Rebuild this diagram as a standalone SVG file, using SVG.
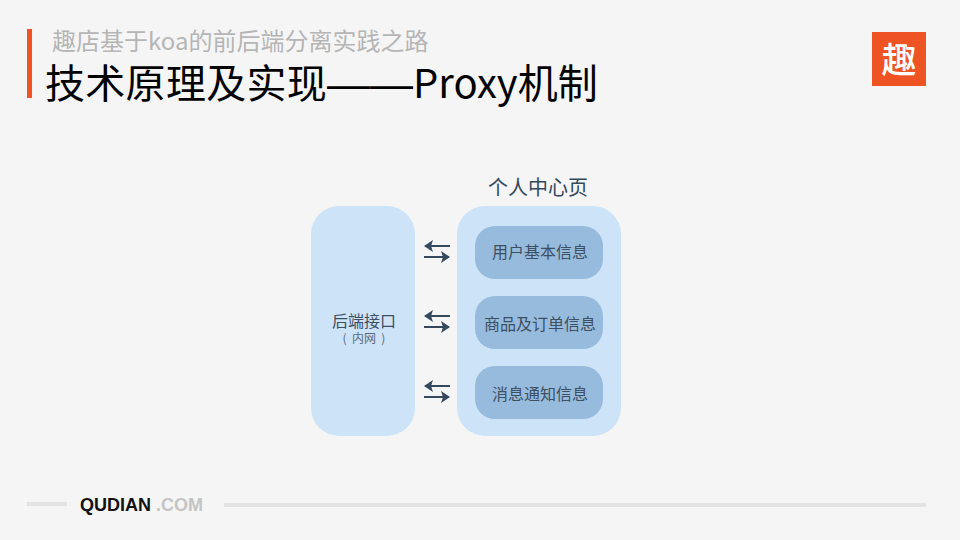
<svg xmlns="http://www.w3.org/2000/svg" width="960" height="540" viewBox="0 0 960 540">
<style>
text{font-family:"Noto Sans CJK SC","Noto Sans",sans-serif}
.n{fill:#3d4f63;font-size:16px;text-anchor:middle}
.h{fill:#34495e}
.inner{fill:#97bbdd}
.outer{fill:#cde3f8}
</style>
<defs>
<g id="arrows">
<rect x="-12" y="-6" width="25" height="2" class="h"/>
<path d="M-13,-5 L-4,-11 L-6,-5 L-4,1 Z" class="h"/>
<rect x="-13" y="5" width="25" height="2" class="h"/>
<path d="M13,6 L4,0 L6,6 L4,12 Z" class="h"/>
</g>
</defs>
<rect width="960" height="540" fill="#f5f5f5"/>
<g id="header">
<rect x="27" y="29" width="5" height="69" fill="#ee5323"/>
<text x="52" y="50" font-size="24" fill="#b5b5b5">趣店基于koa的前后端分离实践之路</text>
<text y="98" font-size="40" fill="#000"><tspan x="45" letter-spacing="0.3">技术原理及实现</tspan><tspan x="327" y="98" font-size="43" style="font-family:'Liberation Sans',sans-serif">——</tspan><tspan x="413" y="98">Proxy机制</tspan></text>
</g>
<g id="logo">
<rect x="872" y="32" width="54" height="54" fill="#ee5323"/>
<text x="899" y="73" font-size="35" font-weight="500" fill="#fff" text-anchor="middle">趣</text>
</g>
<g id="backend">
<rect x="311" y="206" width="104" height="230" rx="28" class="outer"/>
<text x="364" y="327" class="n">后端接口</text>
<text x="364" y="343" font-size="12" fill="#5a6b7d" text-anchor="middle" xml:space="preserve">(  内网  )</text>
</g>
<g id="profile">
<text x="538" y="195" font-size="20" fill="#34495e" text-anchor="middle">个人中心页</text>
<rect x="457" y="206" width="164" height="230" rx="28" class="outer"/>
</g>
<g id="user">
<rect x="475" y="226" width="128" height="53" rx="20" class="inner"/>
<text x="540" y="258" class="n">用户基本信息</text>
</g>
<g id="goods">
<rect x="475" y="296" width="128" height="53" rx="20" class="inner"/>
<text x="540" y="330" class="n">商品及订单信息</text>
</g>
<g id="message">
<rect x="475" y="366" width="128" height="53" rx="20" class="inner"/>
<text x="540" y="400" class="n">消息通知信息</text>
</g>
<g id="connectors">
<use href="#arrows" x="437" y="251"/>
<use href="#arrows" x="437" y="321"/>
<use href="#arrows" x="437" y="391"/>
</g>
<g id="footer">
<rect x="27" y="502" width="40" height="4" fill="#e3e3e3"/>
<text x="80" y="511" font-size="18" font-weight="700" fill="#111" style="font-family:'Liberation Sans',Arial,sans-serif">QUDIAN</text>
<text x="156" y="511" font-size="18" font-weight="700" fill="#c4c4c4" style="font-family:'Liberation Sans',Arial,sans-serif">.COM</text>
<rect x="224" y="503" width="702" height="4" fill="#e3e3e3"/>
</g>
</svg>
